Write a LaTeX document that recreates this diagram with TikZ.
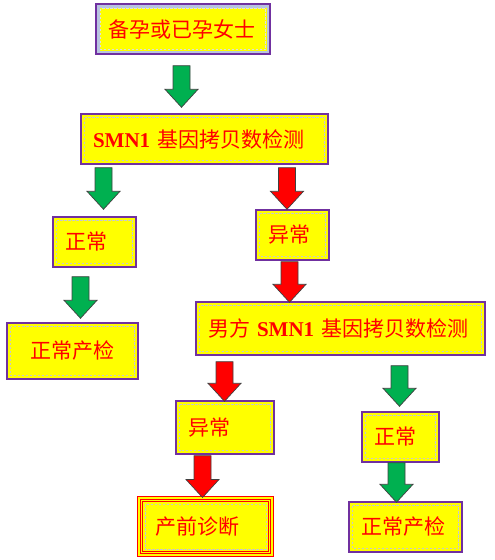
\documentclass[tikz,border=0pt]{standalone}
\usepackage{fontspec}
\setmainfont{Liberation Serif}
\newfontfamily\cjk{Noto Sans CJK SC}
\definecolor{boxfill}{HTML}{FFFF00}
\definecolor{boxline}{HTML}{7030A0}
\definecolor{dashline}{HTML}{C8C8C8}
\definecolor{band}{HTML}{B8C4E0}
\definecolor{arrgreen}{HTML}{00B050}
\newcommand\smn{{\rmfamily\bfseries SMN1}}

\begin{document}
\begin{tikzpicture}[x=1pt, y=-1pt,
  box/.style={draw=boxline, line width=1.4pt, fill=boxfill, text=red,
    font=\cjk\fontsize{21}{25}\selectfont, align=left, inner xsep=12pt,
    inner ysep=0pt, minimum height=50pt,
    path picture={\draw[dashline, line width=0.8pt, dash pattern=on 2.5pt off 1.5pt]
      ([shift={(3.5pt,-3.5pt)}]path picture bounding box.north west) rectangle
      ([shift={(-3.5pt,3.5pt)}]path picture bounding box.south east);}},
  bandbox/.style={box,
    path picture={\draw[band, line width=7pt]
      (path picture bounding box.north west) rectangle (path picture bounding box.south east);
      \draw[dashline!60, line width=0.8pt, dash pattern=on 2.5pt off 1.5pt]
      ([shift={(4.5pt,-4.5pt)}]path picture bounding box.north west) rectangle
      ([shift={(-4.5pt,4.5pt)}]path picture bounding box.south east);}},
  redbox/.style={box, draw=red, line width=1pt, double=boxfill, double distance=1.6pt,
    inner xsep=16pt,
    path picture={\draw[red, line width=1.2pt]
      ([shift={(3.6pt,-3.6pt)}]path picture bounding box.north west) rectangle
      ([shift={(-3.6pt,3.6pt)}]path picture bounding box.south east);
      \draw[dashline, line width=0.8pt, dash pattern=on 2.5pt off 1.5pt]
      ([shift={(6pt,-6pt)}]path picture bounding box.north west) rectangle
      ([shift={(-6pt,6pt)}]path picture bounding box.south east);}},
  blockarrow/.style={line width=0.7pt, draw=black!75, to path={
    ([xshift=-8.5pt]\tikztostart) -- ([shift={(-8.5pt,18pt)}]\tikztotarget)
    -- ([shift={(-16.5pt,18pt)}]\tikztotarget) -- (\tikztotarget)
    -- ([shift={(16.5pt,18pt)}]\tikztotarget) -- ([shift={(8.5pt,18pt)}]\tikztotarget)
    -- ([xshift=8.5pt]\tikztostart) -- cycle}},
  garrow/.style={blockarrow, fill=arrgreen},
  rarrow/.style={blockarrow, fill=red}]
  \useasboundingbox (0,0) rectangle (495,560);

  \node[bandbox, text width=150pt] (woman) at (183,29) {备孕或已孕女士};
  \node[box, text width=223pt] (smn) at (204.5,139) {\smn{} 基因拷贝数检测};
  \node[box, text width=59pt] (normA) at (94.5,242) {正常};
  \node[box, text width=107pt, align=center, minimum height=56pt] (checkA) at (72.5,351) {正常产检};
  \node[box, text width=49pt] (abnA) at (292.5,235) {异常};
  \node[box, text width=265pt, minimum height=53pt] (male) at (340.5,328.5) {男方 \smn{} 基因拷贝数检测};
  \node[box, text width=74pt, minimum height=53pt] (abnB) at (225,427.5) {异常};
  \node[redbox, text width=101pt, minimum height=57pt] (prenatal) at (205.5,526.5) {产前诊断};
  \node[box, text width=53pt] (normB) at (400.5,437) {正常};
  \node[box, text width=89pt] (checkB) at (405.5,527) {正常产检};

  \draw[garrow] ([shift={(-1.5pt,-11pt)}]woman.south) to ([shift={(-23pt,6pt)}]smn.north);
  \draw[garrow] ([shift={(-101pt,-3pt)}]smn.south) to ([shift={(9pt,7pt)}]normA.north);
  \draw[garrow] ([shift={(-14pt,-9pt)}]normA.south) to ([shift={(8pt,4pt)}]checkA.north);
  \draw[rarrow] ([shift={(82.5pt,-3pt)}]smn.south) to ([shift={(-5.5pt,0pt)}]abnA.north);
  \draw[rarrow] ([shift={(-3pt,-1pt)}]abnA.south) to ([shift={(-51pt,-1pt)}]male.north);
  \draw[rarrow] ([shift={(-116pt,-6pt)}]male.south) to ([shift={(-0.5pt,-1pt)}]abnB.north);
  \draw[rarrow] ([shift={(-22.5pt,-1pt)}]abnB.south) to ([shift={(-3pt,0pt)}]prenatal.north);
  \draw[garrow] ([shift={(59pt,-10pt)}]male.south) to ([shift={(-1pt,5pt)}]normB.north);
  \draw[garrow] ([shift={(-4pt,0pt)}]normB.south) to ([shift={(-9pt,-1pt)}]checkB.north);
\end{tikzpicture}
\end{document}
